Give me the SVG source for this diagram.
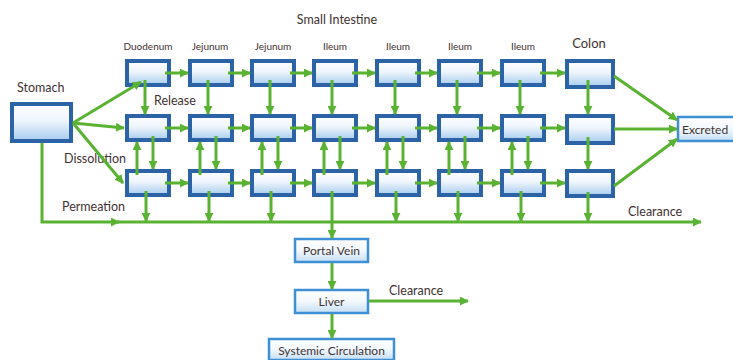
<svg xmlns="http://www.w3.org/2000/svg" width="733" height="360" viewBox="0 0 733 360">
<style>
.t{font-family:Lato,"Open Sans","Liberation Sans",sans-serif;fill:#3f3232;}
.c{fill:url(#g);stroke:#2c62a6;stroke-width:4;}
.p{fill:url(#g2);stroke:#3f8fd4;stroke-width:2.5;}
.a{fill:none;stroke:#5ab232;stroke-width:3;marker-end:url(#ah);}
</style>
<defs>
<linearGradient id="g" x1="0" y1="0" x2="0" y2="1">
<stop offset="0" stop-color="#ffffff"/><stop offset="0.45" stop-color="#eef5fc"/><stop offset="1" stop-color="#a6cbee"/>
</linearGradient>
<linearGradient id="g2" x1="0" y1="0" x2="0" y2="1">
<stop offset="0" stop-color="#ffffff"/><stop offset="0.5" stop-color="#f2f8fd"/><stop offset="1" stop-color="#c4def5"/>
</linearGradient>
<marker id="ah" viewBox="0 0 10 10" refX="9" refY="5" markerWidth="9" markerHeight="9" markerUnits="userSpaceOnUse" orient="auto">
<path d="M0,0 L10,5 L0,10 z" fill="#5ab232"/>
</marker>
</defs>
<rect width="733" height="360" fill="#ffffff"/>

<g id="labels">
<text class="t" x="337" y="24" font-size="12.5" text-anchor="middle">Small Intestine</text>
<text class="t" x="148" y="50" font-size="10" text-anchor="middle">Duodenum</text>
<text class="t" x="210" y="50" font-size="10" text-anchor="middle">Jejunum</text>
<text class="t" x="273" y="50" font-size="10" text-anchor="middle">Jejunum</text>
<text class="t" x="335" y="50" font-size="10" text-anchor="middle">Ileum</text>
<text class="t" x="398" y="50" font-size="10" text-anchor="middle">Ileum</text>
<text class="t" x="460" y="50" font-size="10" text-anchor="middle">Ileum</text>
<text class="t" x="523" y="50" font-size="10" text-anchor="middle">Ileum</text>
<text class="t" x="589" y="48" font-size="13" text-anchor="middle">Colon</text>
<text class="t" x="17" y="92" font-size="12.5">Stomach</text>
<text class="t" x="154" y="105" font-size="12.5">Release</text>
<text class="t" x="64" y="163" font-size="12.5">Dissolution</text>
<text class="t" x="62" y="211" font-size="12.5">Permeation</text>
<text class="t" x="628" y="216" font-size="12.5">Clearance</text>
<text class="t" x="389" y="295" font-size="12.5">Clearance</text>
</g>

<g id="stomach"><rect class="c" x="12" y="104" width="59" height="37"/></g>
<g id="duodenum">
<rect class="c" x="127" y="61" width="42" height="24"/>
<rect class="c" x="127" y="116" width="42" height="24"/>
<rect class="c" x="127" y="171" width="42" height="24"/>
</g>
<g id="jejunum1">
<rect class="c" x="190" y="61" width="42" height="24"/>
<rect class="c" x="190" y="116" width="42" height="24"/>
<rect class="c" x="190" y="171" width="42" height="24"/>
</g>
<g id="jejunum2">
<rect class="c" x="252" y="61" width="42" height="24"/>
<rect class="c" x="252" y="116" width="42" height="24"/>
<rect class="c" x="252" y="171" width="42" height="24"/>
</g>
<g id="ileum1">
<rect class="c" x="314" y="61" width="42" height="24"/>
<rect class="c" x="314" y="116" width="42" height="24"/>
<rect class="c" x="314" y="171" width="42" height="24"/>
</g>
<g id="ileum2">
<rect class="c" x="377" y="61" width="42" height="24"/>
<rect class="c" x="377" y="116" width="42" height="24"/>
<rect class="c" x="377" y="171" width="42" height="24"/>
</g>
<g id="ileum3">
<rect class="c" x="439" y="61" width="42" height="24"/>
<rect class="c" x="439" y="116" width="42" height="24"/>
<rect class="c" x="439" y="171" width="42" height="24"/>
</g>
<g id="ileum4">
<rect class="c" x="502" y="61" width="42" height="24"/>
<rect class="c" x="502" y="116" width="42" height="24"/>
<rect class="c" x="502" y="171" width="42" height="24"/>
</g>
<g id="colon">
<rect class="c" x="567" y="61" width="46" height="26"/>
<rect class="c" x="567" y="116" width="46" height="27"/>
<rect class="c" x="567" y="171" width="46" height="25"/>
</g>
<g id="excreted">
<rect class="p" x="678" y="117" width="62" height="24"/>
<text class="t" x="682" y="133.5" font-size="12">Excreted</text>
</g>
<g id="portal-vein">
<rect class="p" x="295" y="239" width="73" height="23"/>
<text class="t" x="331.5" y="255" font-size="12" text-anchor="middle">Portal Vein</text>
</g>
<g id="liver">
<rect class="p" x="295" y="290" width="73" height="23"/>
<text class="t" x="331.5" y="306" font-size="12" text-anchor="middle">Liver</text>
</g>
<g id="systemic-circulation">
<rect class="p" x="269" y="339" width="125" height="21"/>
<text class="t" x="331.5" y="355" font-size="12" text-anchor="middle">Systemic Circulation</text>
</g>

<g id="connectors">
<path class="a" d="M73,123 L141,82"/>
<path class="a" d="M73,123 L124,128"/>
<path class="a" d="M73,123 L123,183"/>
<path class="a" d="M42,143 V222 H119"/>
<path class="a" d="M117,222 H701"/>
<path class="a" d="M165,73 H188"/>
<path class="a" d="M228,73 H250"/>
<path class="a" d="M290,73 H312"/>
<path class="a" d="M352,73 H375"/>
<path class="a" d="M415,73 H437"/>
<path class="a" d="M477,73 H500"/>
<path class="a" d="M540,73 H565"/>
<path class="a" d="M165,128 H188"/>
<path class="a" d="M228,128 H250"/>
<path class="a" d="M290,128 H312"/>
<path class="a" d="M352,128 H375"/>
<path class="a" d="M415,128 H437"/>
<path class="a" d="M477,128 H500"/>
<path class="a" d="M540,128 H565"/>
<path class="a" d="M165,183 H188"/>
<path class="a" d="M228,183 H250"/>
<path class="a" d="M290,183 H312"/>
<path class="a" d="M352,183 H375"/>
<path class="a" d="M415,183 H437"/>
<path class="a" d="M477,183 H500"/>
<path class="a" d="M540,183 H565"/>
<path class="a" d="M145,80 V114"/>
<path class="a" d="M208,80 V114"/>
<path class="a" d="M270,80 V114"/>
<path class="a" d="M332,80 V114"/>
<path class="a" d="M395,80 V114"/>
<path class="a" d="M457,80 V114"/>
<path class="a" d="M520,80 V114"/>
<path class="a" d="M588,80 V114"/>
<path class="a" d="M153,136 V169"/>
<path class="a" d="M216,136 V169"/>
<path class="a" d="M278,136 V169"/>
<path class="a" d="M340,136 V169"/>
<path class="a" d="M403,136 V169"/>
<path class="a" d="M465,136 V169"/>
<path class="a" d="M528,136 V169"/>
<path class="a" d="M588,137 V169"/>
<path class="a" d="M137,175 V142"/>
<path class="a" d="M200,175 V142"/>
<path class="a" d="M262,175 V142"/>
<path class="a" d="M324,175 V142"/>
<path class="a" d="M387,175 V142"/>
<path class="a" d="M449,175 V142"/>
<path class="a" d="M512,175 V142"/>
<path class="a" d="M146,191 V221"/>
<path class="a" d="M209,191 V221"/>
<path class="a" d="M271,191 V221"/>
<path class="a" d="M396,191 V221"/>
<path class="a" d="M458,191 V221"/>
<path class="a" d="M521,191 V221"/>
<path class="a" d="M588,192 V221"/>
<path class="a" d="M332,191 V238"/>
<path class="a" d="M332,263 V289"/>
<path class="a" d="M332,314 V338"/>
<path class="a" d="M369,301 H468"/>
<path class="a" d="M614,76 L677,120"/>
<path class="a" d="M614,129 H677"/>
<path class="a" d="M614,186 L677,139"/>
</g>
</svg>
